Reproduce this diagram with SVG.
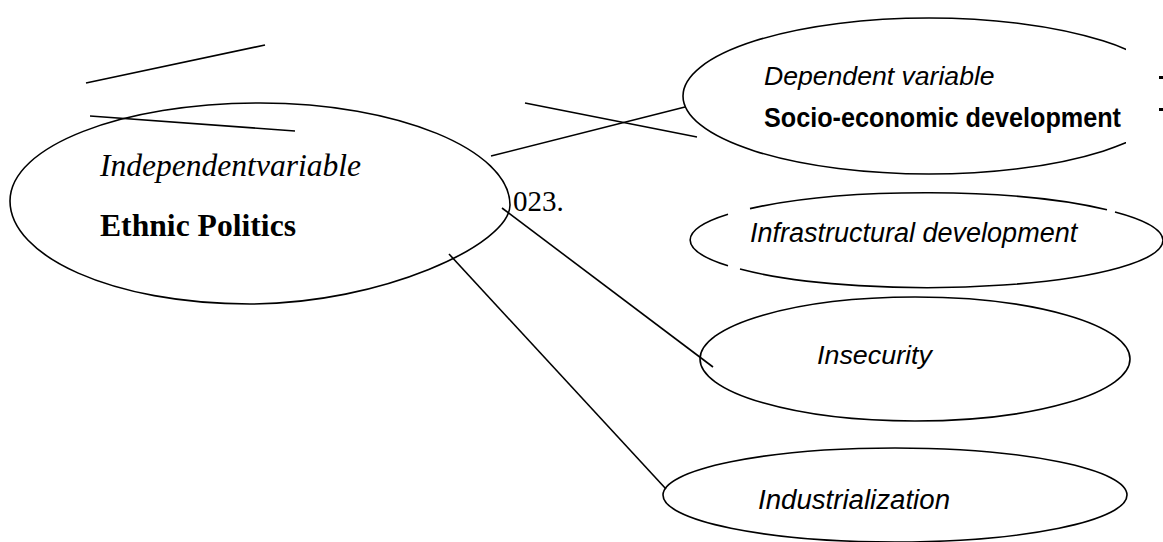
<svg xmlns="http://www.w3.org/2000/svg" width="1163" height="542" viewBox="0 0 1163 542">
<style>
.shape{fill:none;stroke:#000;stroke-width:1.6}
.ln{stroke:#000;stroke-width:1.6;fill:none}
.serif{font-family:"Liberation Serif","Times New Roman",serif;fill:#000}
.sans{font-family:"Liberation Sans",Arial,sans-serif;fill:#000}
.it{font-style:italic}
.bd{font-weight:bold}
</style>
<rect width="1163" height="542" fill="#fff"/>
<defs>
<clipPath id="cutR"><rect x="0" y="0" width="1126" height="542"/></clipPath>
</defs>
<g id="connectors">
<line class="ln" x1="86" y1="83" x2="265" y2="45"/>
<line class="ln" x1="90" y1="116" x2="295" y2="131"/>
<line class="ln" x1="491" y1="156" x2="685" y2="107"/>
<line class="ln" x1="525" y1="103" x2="697" y2="137"/>
<line class="ln" x1="502" y1="208" x2="713" y2="367"/>
<line class="ln" x1="449" y1="254" x2="666" y2="489"/>
</g>
<g id="node-ethnic">
<path class="shape" d="M10,201 C10,146 122,103 260,103 C398,103 510,150 510,205 C510,245 380,304 250,304 C112,304 10,256 10,201 Z"/>
<text class="serif it" x="100" y="176" font-size="31" textLength="261" lengthAdjust="spacingAndGlyphs">Independentvariable</text>
<text class="serif bd" x="100" y="236" font-size="31" textLength="196" lengthAdjust="spacingAndGlyphs">Ethnic Politics</text>
</g>
<text id="stray" class="serif" x="513" y="211" font-size="29">023.</text>
<g id="node-dependent">
<ellipse class="shape" cx="929" cy="96" rx="246" ry="78" clip-path="url(#cutR)"/>
<text class="sans it" x="764" y="85" font-size="26.6">Dependent variable</text>
<text class="sans bd" x="764" y="127" font-size="27.5" textLength="357" lengthAdjust="spacingAndGlyphs">Socio-economic development</text>
<rect x="1159" y="76" width="4" height="3" fill="#000"/>
<rect x="1159" y="108" width="4" height="3" fill="#000"/>
</g>
<g id="node-infra">
<path class="shape" d="M750,208.6 A236,47.5 0 0 1 1107,209.8"/>
<path class="shape" d="M1115,211.9 A236,47.5 0 0 1 1163,240 A236,47.5 0 0 1 740,269.1"/>
<path class="shape" d="M728,265.8 A236,47.5 0 0 1 728,214.2"/>
<text class="sans it" x="750" y="242" font-size="27">Infrastructural development</text>
</g>
<g id="node-insecurity">
<ellipse class="shape" cx="915" cy="359" rx="215" ry="62"/>
<text class="sans it" x="817" y="364" font-size="26" textLength="115" lengthAdjust="spacingAndGlyphs">Insecurity</text>
</g>
<g id="node-industrial">
<ellipse class="shape" cx="895" cy="495" rx="232" ry="47"/>
<text class="sans it" x="758" y="509" font-size="27" textLength="192" lengthAdjust="spacingAndGlyphs">Industrialization</text>
</g>
</svg>
